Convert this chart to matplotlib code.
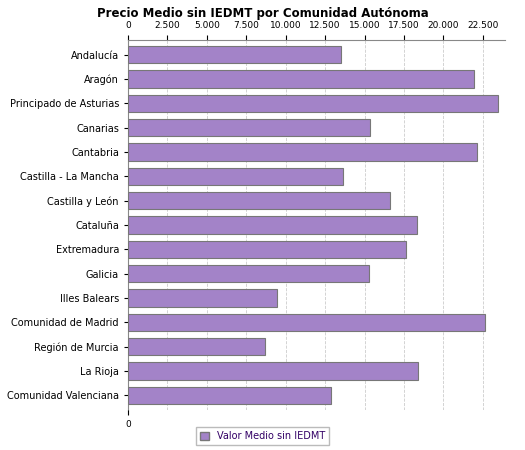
import matplotlib
matplotlib.use('Agg')
import matplotlib.pyplot as plt
import matplotlib.ticker as ticker
from matplotlib.patches import Patch

regions = ['Andalucía', 'Aragón', 'Principado de Asturias', 'Canarias', 'Cantabria',
           'Castilla - La Mancha', 'Castilla y León', 'Cataluña', 'Extremadura', 'Galicia',
           'Illes Balears', 'Comunidad de Madrid', 'Región de Murcia', 'La Rioja',
           'Comunidad Valenciana']
values = [13500, 21940, 23450, 15340, 22120, 13630, 16610, 18320, 17620, 15280,
          9450, 22630, 8690, 18390, 12870]

fig = plt.figure(figsize=(5.25, 4.5), dpi=100)
ax = fig.add_axes([128/525, 40/450, 377/525, 370/450])
y = range(len(regions))
ax.barh(y, values, height=0.72, color='#a383c8', edgecolor='#777777', linewidth=0.8, zorder=3)
ax.set_yticks(list(y))
ax.set_yticklabels(regions, fontsize=7)
ax.set_ylim(len(regions) - 0.4, -0.6)
ax.set_xlim(0, 23900)
ax.xaxis.set_major_locator(ticker.MultipleLocator(2500))
ax.xaxis.set_major_formatter(ticker.FuncFormatter(lambda v, p: f'{int(v):,}'.replace(',', '.')))
ax.tick_params(axis='x', labelsize=6.5, top=True, labeltop=True, bottom=False, labelbottom=False)
ax.tick_params(axis='y', length=3)
ax.grid(axis='x', linestyle='--', color='#cccccc', linewidth=0.6, zorder=0)
for s in ['right', 'bottom']:
    ax.spines[s].set_visible(False)
ax.spines['left'].set_color('#888888')
ax.spines['top'].set_color('#888888')

# bottom axis with only 0
ax2 = fig.add_axes([128/525, 40/450, 377/525, 370/450], frameon=False)
ax2.set_xlim(0, 23900)
ax2.set_xticks([0])
ax2.set_xticklabels(['0'], fontsize=6.5)
ax2.set_yticks([])
ax2.spines['bottom'].set_visible(True)
ax2.spines['bottom'].set_color('#888888')
ax2.patch.set_visible(False)

fig.text(0.5, 0.985, 'Precio Medio sin IEDMT por Comunidad Autónoma', ha='center', va='top',
         fontsize=8.5, fontweight='bold')
fig.legend(handles=[Patch(facecolor='#a383c8', edgecolor='#777777', label='Valor Medio sin IEDMT')],
           loc='lower center', bbox_to_anchor=(0.5, 0.0), fontsize=7, frameon=True,
           fancybox=False, edgecolor='#aaaaaa', labelcolor='#330066', handlelength=1, handleheight=1)
fig.savefig('out.png', dpi=100)
